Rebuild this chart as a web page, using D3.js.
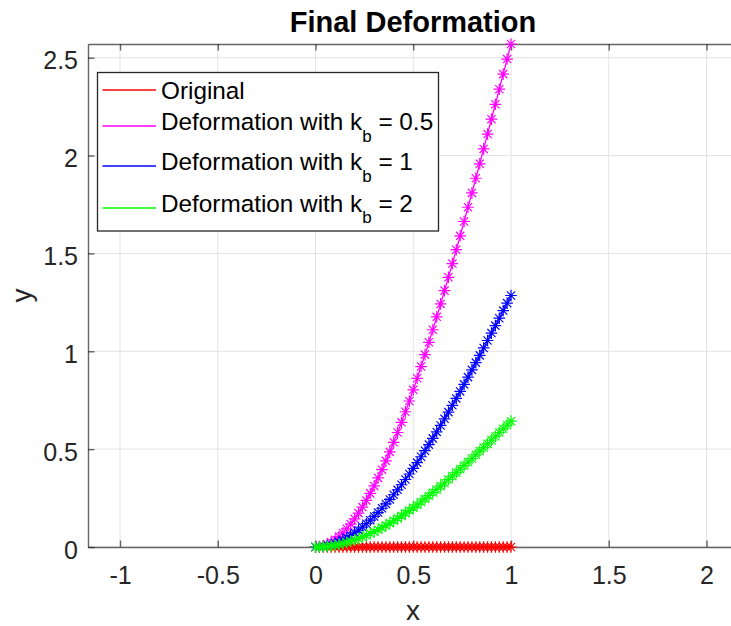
<!DOCTYPE html>
<html>
<head>
<meta charset="utf-8">
<script src="https://cdn.jsdelivr.net/npm/d3@7"></script>
<style>
  body { margin: 0; background: #fff; }
  svg { display: block; }
  text { font-family: "Liberation Sans", Arial, Helvetica, sans-serif; }
</style>
</head>
<body>
<div id="chart"></div>
<script>
// data
var xVals = [0, 0.02, 0.04, 0.06, 0.08, 0.10, 0.12, 0.14, 0.16, 0.18,
  0.20, 0.22, 0.24, 0.26, 0.28, 0.30, 0.32, 0.34, 0.36, 0.38,
  0.40, 0.42, 0.44, 0.46, 0.48, 0.50, 0.52, 0.54, 0.56, 0.58,
  0.60, 0.62, 0.64, 0.66, 0.68, 0.70, 0.72, 0.74, 0.76, 0.78,
  0.80, 0.82, 0.84, 0.86, 0.88, 0.90, 0.92, 0.94, 0.96, 0.98, 1.00];

var yOriginal = [0, 0, 0, 0, 0, 0, 0, 0, 0, 0,
  0, 0, 0, 0, 0, 0, 0, 0, 0, 0,
  0, 0, 0, 0, 0, 0, 0, 0, 0, 0,
  0, 0, 0, 0, 0, 0, 0, 0, 0, 0,
  0, 0, 0, 0, 0, 0, 0, 0, 0, 0, 0];

var yKb05 = [0, 0.002, 0.006, 0.014, 0.024, 0.037, 0.053, 0.072, 0.093, 0.117,
  0.144, 0.173, 0.204, 0.238, 0.274, 0.312, 0.353, 0.395, 0.440, 0.486,
  0.535, 0.585, 0.637, 0.691, 0.746, 0.803, 0.862, 0.922, 0.983, 1.046,
  1.110, 1.176, 1.242, 1.310, 1.378, 1.448, 1.519, 1.590, 1.663, 1.736,
  1.809, 1.884, 1.958, 2.034, 2.110, 2.186, 2.262, 2.339, 2.416, 2.493, 2.570];

var yKb1 = [0, 0.001, 0.003, 0.007, 0.012, 0.019, 0.027, 0.036, 0.047, 0.059,
  0.072, 0.086, 0.102, 0.119, 0.137, 0.156, 0.176, 0.198, 0.220, 0.243,
  0.267, 0.292, 0.318, 0.345, 0.373, 0.402, 0.431, 0.461, 0.492, 0.523,
  0.555, 0.588, 0.621, 0.655, 0.689, 0.724, 0.759, 0.795, 0.831, 0.868,
  0.905, 0.942, 0.979, 1.017, 1.055, 1.093, 1.131, 1.169, 1.208, 1.246, 1.285];

var yKb2 = [0, 0.000, 0.002, 0.003, 0.006, 0.009, 0.013, 0.018, 0.023, 0.029,
  0.036, 0.043, 0.051, 0.060, 0.069, 0.078, 0.088, 0.099, 0.110, 0.122,
  0.134, 0.146, 0.159, 0.173, 0.187, 0.201, 0.215, 0.230, 0.246, 0.262,
  0.278, 0.294, 0.311, 0.327, 0.345, 0.362, 0.380, 0.398, 0.416, 0.434,
  0.452, 0.471, 0.490, 0.508, 0.527, 0.546, 0.566, 0.585, 0.604, 0.623, 0.643];

var seriesNames = ['Original', 'Deformation with k', 'Deformation with k', 'Deformation with k'];
var seriesSub = ['', 'b', 'b', 'b'];
var seriesTail = ['', ' = 0.5', ' = 1', ' = 2'];
var seriesColors = ['#ff0000', '#ff00ff', '#0000ff', '#00ff00'];
var seriesY = [yOriginal, yKb05, yKb1, yKb2];

var xTicks = [-1, -0.5, 0, 0.5, 1, 1.5, 2];
var yTicks = [0, 0.5, 1, 1.5, 2, 2.5];
var xDomain = [-1.1637, 2.161];
var yDomain = [0, 2.57];

// layout
var W = 731, H = 626;
var m = { left: 88, top: 44, right: 738, bottom: 547 };
var axisColor = '#262626';

var svg = d3.select('#chart').append('svg')
    .attr('width', W)
    .attr('height', H);

var x = d3.scaleLinear().domain(xDomain).range([m.left, m.right]);
var y = d3.scaleLinear().domain(yDomain).range([m.bottom, m.top]);

// grid
var grid = svg.append('g');
grid.selectAll('line.gx').data(xTicks).enter().append('line')
    .attr('x1', (d) => x(d)).attr('x2', (d) => x(d))
    .attr('y1', m.top).attr('y2', m.bottom)
    .attr('stroke', '#e3e3e3').attr('stroke-width', 1);
grid.selectAll('line.gy').data(yTicks).enter().append('line')
    .attr('x1', m.left).attr('x2', m.right)
    .attr('y1', (d) => y(d)).attr('y2', (d) => y(d))
    .attr('stroke', '#e3e3e3').attr('stroke-width', 1);

// axes box + ticks (ticks pointing inward)
var fmt = (d) => String(d);
var xAxis = svg.append('g')
    .attr('transform', `translate(0,${m.bottom})`)
    .call(d3.axisBottom(x).tickValues(xTicks).tickFormat(fmt).tickSizeInner(-6.5).tickSizeOuter(0).tickPadding(0));
var xAxisTop = svg.append('g')
    .attr('transform', `translate(0,${m.top})`)
    .call(d3.axisTop(x).tickValues(xTicks).tickFormat('').tickSizeInner(-6.5).tickSizeOuter(0));
var yAxis = svg.append('g')
    .attr('transform', `translate(${m.left},0)`)
    .call(d3.axisLeft(y).tickValues(yTicks).tickFormat(fmt).tickSizeInner(-6.5).tickSizeOuter(0).tickPadding(0));
var yAxisRight = svg.append('g')
    .attr('transform', `translate(${m.right},0)`)
    .call(d3.axisRight(y).tickValues(yTicks).tickFormat('').tickSizeInner(-6.5).tickSizeOuter(0));

[xAxis, xAxisTop, yAxis, yAxisRight].forEach((g) => {
    g.select('.domain').attr('stroke', axisColor).attr('stroke-width', 1.4).attr('stroke-opacity', 0.7);
    g.selectAll('.tick line').attr('stroke', axisColor).attr('stroke-width', 1.4).attr('stroke-opacity', 0.7);
});
xAxis.selectAll('.tick text')
    .attr('y', 37).attr('dy', null)
    .attr('font-size', 25).attr('fill', axisColor)
    .attr('font-family', '"Liberation Sans", Arial, sans-serif');
yAxis.selectAll('.tick text')
    .attr('x', -10).attr('dy', '0.45em')
    .attr('font-size', 25).attr('fill', axisColor)
    .attr('font-family', '"Liberation Sans", Arial, sans-serif');

// series: line + asterisk markers
var r = 5.8, dd = r * 0.707;
var star = `M${-r},0H${r}M0,${-r}V${r}M${-dd},${-dd}L${dd},${dd}M${-dd},${dd}L${dd},${-dd}`;
var line = d3.line().x((d) => x(d[0])).y((d) => y(d[1]));

seriesY.forEach((ys, i) => {
    var pts = xVals.map((xv, j) => [xv, ys[j]]);
    var g = svg.append('g');
    g.append('path')
        .attr('d', line(pts))
        .attr('fill', 'none')
        .attr('stroke', seriesColors[i])
        .attr('stroke-width', 1.3);
    g.selectAll('path.mk').data(pts).enter().append('path')
        .attr('class', 'mk')
        .attr('transform', (d) => `translate(${x(d[0])},${y(d[1])})`)
        .attr('d', star)
        .attr('fill', 'none')
        .attr('stroke', seriesColors[i])
        .attr('stroke-width', 1.2);
});

// title and axis labels
svg.append('text')
    .attr('x', 413).attr('y', 32)
    .attr('text-anchor', 'middle')
    .attr('font-size', 29).attr('font-weight', 'bold').attr('fill', '#000')
    .text('Final Deformation');
svg.append('text')
    .attr('x', 413).attr('y', 620)
    .attr('text-anchor', 'middle')
    .attr('font-size', 28).attr('fill', axisColor)
    .text('x');
svg.append('text')
    .attr('transform', `translate(31,${(m.top + m.bottom) / 2}) rotate(-90)`)
    .attr('text-anchor', 'middle')
    .attr('font-size', 28).attr('fill', axisColor)
    .text('y');

// legend
var leg = svg.append('g');
leg.append('rect')
    .attr('x', 97.5).attr('y', 72.5)
    .attr('width', 341).attr('height', 158.5)
    .attr('fill', '#fff')
    .attr('stroke', axisColor).attr('stroke-width', 1.3);
var rowLine = [90, 126, 166, 208];
var rowBase = [99, 130, 170, 211.5];
seriesNames.forEach((name, i) => {
    leg.append('line')
        .attr('x1', 102.5).attr('x2', 156)
        .attr('y1', rowLine[i]).attr('y2', rowLine[i])
        .attr('stroke', seriesColors[i]).attr('stroke-width', 1.3);
    var t = leg.append('text')
        .attr('x', 161).attr('y', rowBase[i])
        .attr('font-size', 24.3).attr('fill', '#000');
    t.append('tspan').text(name);
    if (seriesSub[i]) {
        t.append('tspan').attr('dy', 11.5).attr('font-size', 17).text(seriesSub[i]);
        t.append('tspan').attr('dy', -11.5).text(seriesTail[i]);
    }
});
</script>
</body>
</html>
